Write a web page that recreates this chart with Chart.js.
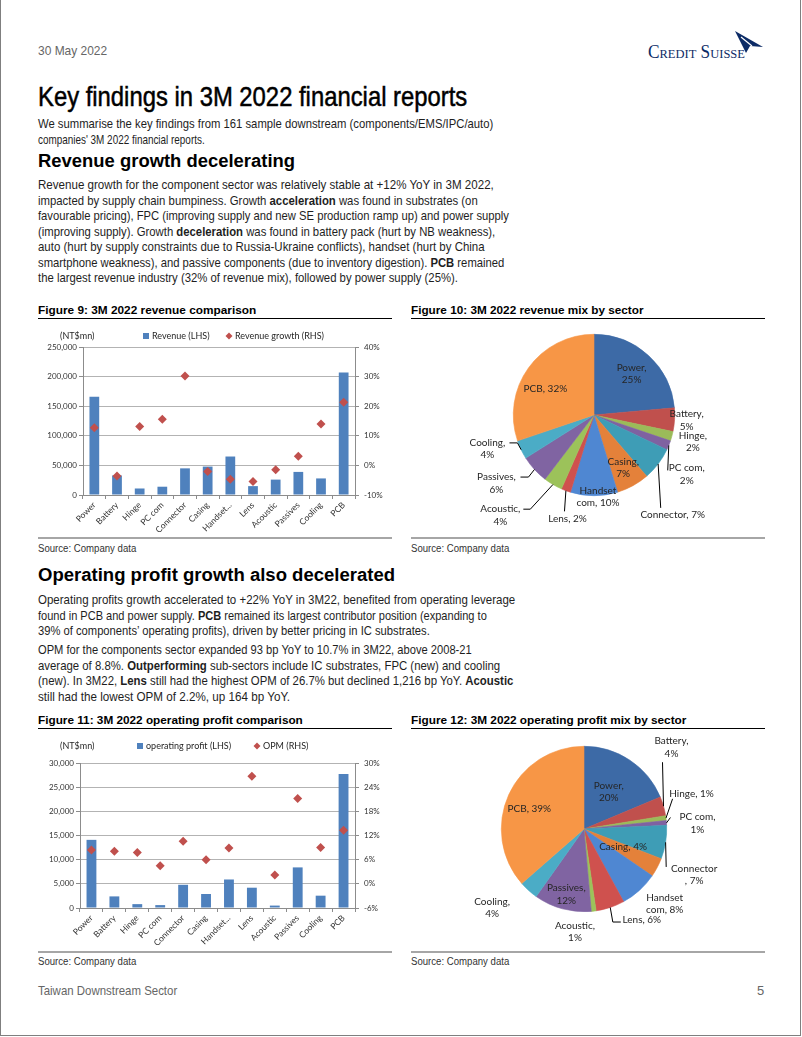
<!DOCTYPE html>
<html>
<head>
<meta charset="utf-8">
<script src="https://cdn.jsdelivr.net/npm/chart.js@4.4.0/dist/chart.umd.min.js"></script>
<style>
  body { margin: 0; width: 802px; height: 1037px; position: relative; overflow: hidden; background: #fff;
         font-family: "Liberation Sans", Arial, sans-serif; color: #1e1e1e; }
  .frame { position: absolute; left: 0; top: -1px; width: 801px; height: 1037px; box-sizing: border-box; border: 1px solid #7f7f7f; }
  .t { position: absolute; left: 38px; white-space: nowrap; line-height: 1; transform-origin: 0 50%; transform: translateY(-50%); }
  .b { font-size: 13px; }
  .h1 { font-size: 28px; color: #000; -webkit-text-stroke: 0.5px #000; }
  .h2 { font-size: 18px; font-weight: bold; color: #000; }
  .fig { font-size: 11.5px; font-weight: bold; color: #000; }
  .src { font-size: 10px; color: #333; }
  .grey { color: #666; font-size: 13px; }
  .rule { position: absolute; height: 0; }
  canvas { position: absolute; }
</style>
</head>
<body>
<div class="frame"></div>

<div class="t grey" style="top:50px" data-w="69">30 May 2022</div>
<div class="t" style="left:648px;top:52px;font-family:'Liberation Serif',serif;font-size:18px;font-variant:small-caps;color:#0c2b66" data-w="97">Credit Suisse</div>
<svg style="position:absolute;left:0;top:0" width="802" height="70">
  <path d="M735 31 L763 47 L750 46 L746 53 Z" fill="#0c2b66"/>
  <path d="M741 37 L752 46" stroke="#fff" stroke-width="1.2"/>
</svg>

<div class="t h1" style="top:97px" data-w="429">Key findings in 3M 2022 financial reports</div>
<div class="t b" style="top:123px" data-w="455">We summarise the key findings from 161 sample downstream (components/EMS/IPC/auto)</div>
<div class="t b" style="top:139px" data-w="167">companies' 3M 2022 financial reports.</div>

<div class="t h2" style="top:161px" data-w="257">Revenue growth decelerating</div>
<div class="t b" style="top:184px" data-w="456">Revenue growth for the component sector was relatively stable at +12% YoY in 3M 2022,</div>
<div class="t b" style="top:199.5px" data-w="440">impacted by supply chain bumpiness. Growth <b>acceleration</b> was found in substrates (on</div>
<div class="t b" style="top:215px" data-w="471">favourable pricing), FPC (improving supply and new SE production ramp up) and power supply</div>
<div class="t b" style="top:230.5px" data-w="457">(improving supply). Growth <b>deceleration</b> was found in battery pack (hurt by NB weakness),</div>
<div class="t b" style="top:246px" data-w="447">auto (hurt by supply constraints due to Russia-Ukraine conflicts), handset (hurt by China</div>
<div class="t b" style="top:261.5px" data-w="466">smartphone weakness), and passive components (due to inventory digestion). <b>PCB</b> remained</div>
<div class="t b" style="top:277px" data-w="420">the largest revenue industry (32% of revenue mix), followed by power supply (25%).</div>

<div class="t fig" style="top:311px" data-w="218">Figure 9: 3M 2022 revenue comparison</div>
<div class="t fig" style="top:311px;left:411px" data-w="233">Figure 10: 3M 2022 revenue mix by sector</div>
<div class="rule" style="left:38px;top:318px;width:354px;border-top:1px solid #000"></div>
<div class="rule" style="left:411px;top:318px;width:354px;border-top:1px solid #000"></div>

<canvas id="revBar" width="354" height="210" style="left:38px;top:326px"></canvas>
<canvas id="revPie" width="354" height="210" style="left:411px;top:326px"></canvas>

<div class="rule" style="left:38px;top:537px;width:354px;border-top:2px solid #a6a6a6"></div>
<div class="rule" style="left:411px;top:537px;width:354px;border-top:2px solid #a6a6a6"></div>
<div class="t src" style="top:549px" data-w="98">Source: Company data</div>
<div class="t src" style="top:549px;left:411px" data-w="98">Source: Company data</div>

<div class="t h2" style="top:575px" data-w="357">Operating profit growth also decelerated</div>
<div class="t b" style="top:599px" data-w="477">Operating profits growth accelerated to +22% YoY in 3M22, benefited from operating leverage</div>
<div class="t b" style="top:614.5px" data-w="449">found in PCB and power supply. <b>PCB</b> remained its largest contributor position (expanding to</div>
<div class="t b" style="top:630px" data-w="392">39% of components’ operating profits), driven by better pricing in IC substrates.</div>
<div class="t b" style="top:649px" data-w="434">OPM for the components sector expanded 93 bp YoY to 10.7% in 3M22, above 2008-21</div>
<div class="t b" style="top:664.5px" data-w="462">average of 8.8%. <b>Outperforming</b> sub-sectors include IC substrates, FPC (new) and cooling</div>
<div class="t b" style="top:680px" data-w="475">(new). In 3M22, <b>Lens</b> still had the highest OPM of 26.7% but declined 1,216 bp YoY. <b>Acoustic</b></div>
<div class="t b" style="top:695.5px" data-w="252">still had the lowest OPM of 2.2%, up 164 bp YoY.</div>

<div class="t fig" style="top:721px" data-w="265">Figure 11: 3M 2022 operating profit comparison</div>
<div class="t fig" style="top:721px;left:411px" data-w="275">Figure 12: 3M 2022 operating profit mix by sector</div>
<div class="rule" style="left:38px;top:728px;width:354px;border-top:1px solid #000"></div>
<div class="rule" style="left:411px;top:728px;width:354px;border-top:1px solid #000"></div>

<canvas id="opBar" width="354" height="210" style="left:38px;top:737px"></canvas>
<canvas id="opPie" width="354" height="217" style="left:411px;top:730px"></canvas>

<div class="rule" style="left:38px;top:951px;width:354px;border-top:2px solid #a6a6a6"></div>
<div class="rule" style="left:411px;top:951px;width:354px;border-top:2px solid #a6a6a6"></div>
<div class="t src" style="top:962px" data-w="98">Source: Company data</div>
<div class="t src" style="top:962px;left:411px" data-w="98">Source: Company data</div>

<div class="t grey" style="top:990px" data-w="139">Taiwan Downstream Sector</div>
<div class="t grey" style="top:990px;left:757px">5</div>

<script>
// ---- data ----
const sectors = ["Power", "Battery", "Hinge", "PC com", "Connector", "Casing", "Handset...", "Lens", "Acoustic", "Passives", "Cooling", "PCB"];
const revenue = [166000, 33000, 11000, 14000, 45000, 48000, 65000, 15000, 26000, 39000, 28000, 207000];
const revenueGrowth = [12.7, -3.6, 13.1, 15.6, 30.2, -2.1, -4.7, -5.4, -1.5, 3.1, 14.0, 21.3];
const opProfit = [14100, 2400, 800, 600, 4800, 2900, 5900, 4200, 500, 8400, 2550, 27700];
const opm = [8.4, 8.1, 7.8, 4.5, 10.6, 6.0, 8.9, 26.7, 2.2, 21.2, 9.0, 13.3];

const mixNames = ["Power", "Battery", "Hinge", "PC com", "Connector", "Casing", "Handset com", "Lens", "Acoustic", "Passives", "Cooling", "PCB"];
const revenueMix = [25, 5, 2, 2, 7, 7, 10, 2, 4, 6, 4, 32];
const profitMix = [20, 4, 1, 1, 7, 4, 8, 6, 1, 12, 4, 39];

const revTicks = [0, 250000, 50000];   // min, max, step
const growthTicks = [-10, 40, 10];
const profitTicks = [0, 30000, 5000];
const opmTicks = [-6, 30, 6];

const BLUE = "#4f81bd", RED = "#c0504d";
const pieColors = ["#3d6aa6", "#c0504d", "#9bbb59", "#7f62a1", "#3e9db6", "#e4813a",
                   "#4f87d2", "#cf514e", "#9cc25a", "#8064a2", "#4bacc6", "#f79646"];

Chart.defaults.animation = false;
Chart.defaults.font.family = "Lato, sans-serif";
Chart.defaults.color = "#333";

// legend row drawn the way the Excel charts have it
const miniLegend = {
  id: "miniLegend",
  afterDraw(chart, args, o) {
    const ctx = chart.ctx;
    ctx.save();
    ctx.font = "9px Lato";
    ctx.textBaseline = "middle";
    ctx.fillStyle = "#262626";
    ctx.fillText(o.unit, o.unitX, o.y);
    chart.data.datasets.forEach((ds, i) => {
      const x = o.xs[i];
      ctx.fillStyle = ds.backgroundColor;
      if (ds.type === "line") {
        ctx.beginPath();
        ctx.moveTo(x, o.y - 3.5); ctx.lineTo(x + 3.5, o.y); ctx.lineTo(x, o.y + 3.5); ctx.lineTo(x - 3.5, o.y);
        ctx.closePath(); ctx.fill();
      } else {
        ctx.fillRect(x - 3, o.y - 3, 6, 6);
      }
      ctx.fillStyle = "#262626";
      ctx.fillText(ds.label, x + 6, o.y);
    });
    ctx.restore();
  }
};

// pie labels with Excel-like leader lines
const pieLabels = {
  id: "pieLabels",
  afterDatasetsDraw(chart, args, o) {
    const ctx = chart.ctx;
    const meta = chart.getDatasetMeta(0);
    const names = chart.data.labels;
    const vals = chart.data.datasets[0].data;
    ctx.save();
    ctx.font = "10px Lato";
    ctx.textAlign = "center";
    ctx.textBaseline = "middle";
    ctx.strokeStyle = "#000";
    ctx.lineWidth = 1;
    meta.data.forEach((arc, i) => {
      const p = o.place[i];
      const mid = (arc.startAngle + arc.endAngle) / 2;
      const d = arc.outerRadius * p.f;
      const x = arc.x + Math.cos(mid) * d + (p.dx || 0);
      const y = arc.y + Math.sin(mid) * d + (p.dy || 0);
      let lines = [names[i] + ", " + vals[i] + "%"];
      if (p.wrap === "comma") lines = [names[i] + ",", vals[i] + "%"];
      if (p.wrap === "word") {
        const w = names[i].split(" ");
        lines = [w[0], w.slice(1).join(" ") + ", " + vals[i] + "%"];
      }
      if (p.wrap === "name") lines = [names[i], ", " + vals[i] + "%"];
      if (p.lead) {
        const sx = arc.x + Math.cos(mid) * arc.outerRadius;
        const sy = arc.y + Math.sin(mid) * arc.outerRadius;
        const ex = x + p.lead[0], ey = y + p.lead[1];
        ctx.beginPath();
        ctx.moveTo(sx, sy);
        if (p.elbow) ctx.lineTo(ex + p.elbow, ey);
        ctx.lineTo(ex, ey);
        ctx.stroke();
      }
      ctx.fillStyle = "#262626";
      const lh = 12.5;
      lines.forEach((s, k) => ctx.fillText(s, x, y + (k - (lines.length - 1) / 2) * lh));
    });
    ctx.restore();
  }
};

function comboChart(id, values, rates, names, leftT, rightT, fit, legend) {
  const tickGrid = { color: "#b3b3b3", tickColor: "#8c8c8c", tickLength: 4 };
  return new Chart(document.getElementById(id), {
    type: "bar",
    data: {
      labels: sectors,
      datasets: [
        { label: names[0], data: values, backgroundColor: BLUE, barPercentage: 0.43, categoryPercentage: 1, yAxisID: "y", order: 2 },
        { type: "line", label: names[1], data: rates, yAxisID: "y1", showLine: false, backgroundColor: RED, borderColor: RED,
          pointStyle: "rectRot", pointRadius: 4.5, pointBorderWidth: 0, order: 1 }
      ]
    },
    options: {
      responsive: false,
      layout: { padding: { top: fit.top, left: 0, right: 0, bottom: 0 } },
      plugins: { legend: { display: false }, tooltip: { enabled: false }, miniLegend: legend },
      scales: {
        x: {
          grid: { display: true, drawOnChartArea: false, offset: true, tickLength: 4, tickColor: "#8c8c8c" },
          border: { color: "#8c8c8c" },
          ticks: { font: { size: 8.5 }, minRotation: 45, maxRotation: 45, padding: 1, autoSkip: false },
          afterFit(s) { s.height = fit.xh; }
        },
        y: {
          min: leftT[0], max: leftT[1],
          ticks: { stepSize: leftT[2], font: { size: 8 }, padding: 2,
                   callback: v => v.toLocaleString("en-US") },
          grid: tickGrid,
          border: { color: "#8c8c8c" },
          afterFit(s) { s.width = fit.yw; }
        },
        y1: {
          position: "right",
          min: rightT[0], max: rightT[1],
          ticks: { stepSize: rightT[2], font: { size: 8 }, padding: 5, callback: v => v + "%" },
          grid: { drawOnChartArea: false, tickLength: 4, tickColor: "#8c8c8c" },
          border: { color: "#8c8c8c" },
          afterFit(s) { s.width = fit.y1w; }
        }
      }
    },
    plugins: [miniLegend]
  });
}

function pieChart(id, values, pad, place) {
  return new Chart(document.getElementById(id), {
    type: "pie",
    data: { labels: mixNames, datasets: [{ data: values, backgroundColor: pieColors, borderColor: pieColors, borderWidth: 0.6 }] },
    options: {
      responsive: false,
      layout: { padding: pad },
      plugins: { legend: { display: false }, tooltip: { enabled: false }, pieLabels: { place } }
    },
    plugins: [pieLabels]
  });
}

function fitText() {
  document.querySelectorAll(".t").forEach(el => {
    const w = el.offsetWidth;
    const s = el.dataset.w ? el.dataset.w / w : 1;
    el.style.transform = "translateY(-50%) scaleX(" + s + ")";
  });
}

function init() {
  fitText();

  comboChart("revBar", revenue, revenueGrowth, ["Revenue (LHS)", "Revenue growth (RHS)"],
    revTicks, growthTicks, { top: 21, xh: 41, yw: 45, y1w: 37 },
    { unit: "(NT$mn)", unitX: 22, y: 10, xs: [108, 191] });

  comboChart("opBar", opProfit, opm, ["operating profit (LHS)", "OPM (RHS)"],
    profitTicks, opmTicks, { top: 26, xh: 39, yw: 42, y1w: 37 },
    { unit: "(NT$mn)", unitX: 22, y: 9, xs: [102, 219] });

  pieChart("revPie", revenueMix, { left: 102, right: 90, top: 8, bottom: 40 }, [
    { f: 0.69, wrap: "comma" },
    { f: 1.15, wrap: "comma" },
    { f: 1.27, wrap: "comma" },
    { f: 1.2, dx: 3, dy: 23, wrap: "comma", lead: [-19, -4] },
    { f: 1.57, dx: -22, dy: 23, lead: [-12, -7] },
    { f: 0.75, wrap: "comma" },
    { f: 1.0, dx: 4, dy: 1, wrap: "word" },
    { f: 1.3, dx: 10, dy: 5, lead: [-3, -7] },
    { f: 1.6, dx: -28, dy: -11, wrap: "comma", lead: [23, -6], elbow: 7 },
    { f: 1.47, dx: -10, dy: -12, wrap: "comma", lead: [24, -6], elbow: 8 },
    { f: 1.38, dx: -6, dy: -14, wrap: "comma", lead: [22, -6], elbow: 8 },
    { f: 0.68, dx: -4, dy: 6 }
  ]);

  pieChart("opPie", profitMix, { left: 90, right: 98, top: 16, bottom: 35 }, [
    { f: 0.54, wrap: "comma" },
    { f: 1.0, dx: 8, dy: -59, wrap: "comma", lead: [-9, 15] },
    { f: 1.3, dx: 1, dy: -21, lead: [-19, 5] },
    { f: 1.4, dx: -2, dy: 3, wrap: "comma", lead: [-27, -6] },
    { f: 1.35, dx: 0, dy: 28, wrap: "name", lead: [-28, -8] },
    { f: 0.52, dx: 1, dy: -2 },
    { f: 1.33, dx: 7, dy: -7, wrap: "word" },
    { f: 1.25, dx: 25, dy: -7, lead: [-21, 2], elbow: -8 },
    { f: 1.24, dx: -21, dy: 1, wrap: "comma" },
    { f: 0.82, wrap: "comma" },
    { f: 1.46, dx: -11, dy: -11, wrap: "comma" },
    { f: 0.7, dx: -2, dy: 4 }
  ]);
}

Promise.all([document.fonts.load("10px Lato"), document.fonts.load("12px 'Liberation Sans'"),
             document.fonts.load("bold 12px 'Liberation Sans'")]).then(init, init);
</script>
</body>
</html>
